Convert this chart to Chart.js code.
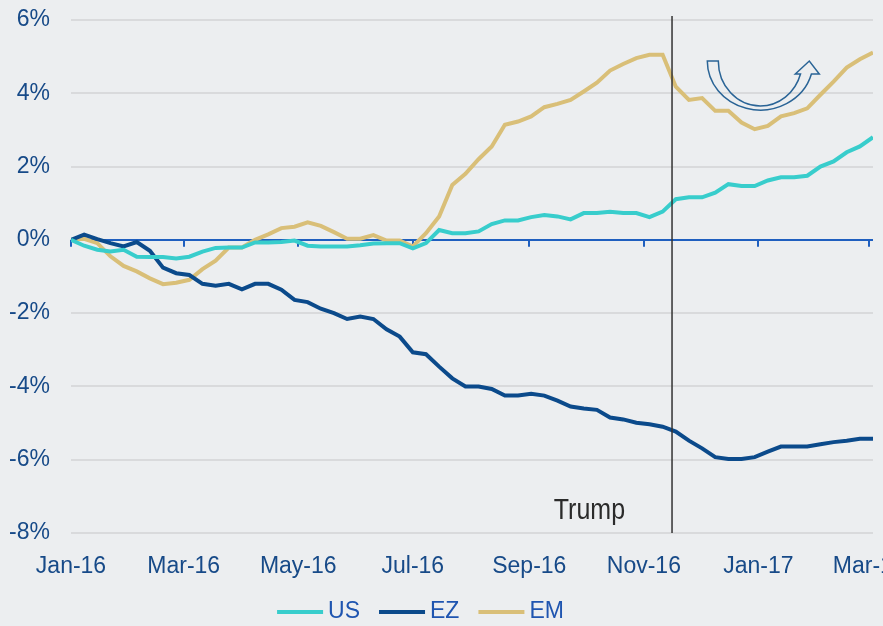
<!DOCTYPE html>
<html>
<head>
<meta charset="utf-8">
<script src="https://cdn.jsdelivr.net/npm/chart.js@4.4.0/dist/chart.umd.min.js"></script>
<style>
    html, body { margin: 0; padding: 0; background: #eceef0; }
    #wrap { width: 883px; height: 626px; position: relative; }
</style>
</head>
<body>
<div id="wrap"><canvas id="myChart"></canvas></div>
<script>
// Series values, one per week from 1 Jan 2016 (% change)
const usValues = [
    0, -0.16, -0.27, -0.32, -0.27, -0.46, -0.47, -0.47, -0.51, -0.46,
    -0.32, -0.22, -0.21, -0.21, -0.07, -0.07, -0.06, -0.02, -0.16, -0.18,
    -0.18, -0.18, -0.15, -0.1, -0.09, -0.09, -0.23, -0.09, 0.27, 0.18,
    0.18, 0.23, 0.43, 0.53, 0.53, 0.62, 0.68, 0.64, 0.56, 0.73,
    0.73, 0.77, 0.73, 0.73, 0.62, 0.77, 1.11, 1.16, 1.16, 1.29,
    1.52, 1.47, 1.47, 1.62, 1.71, 1.71, 1.75, 2.0, 2.14, 2.39,
    2.55, 2.8
];
const ezValues = [
    0, 0.14, 0.02, -0.09, -0.18, -0.06, -0.3, -0.76, -0.91, -0.96,
    -1.2, -1.25, -1.2, -1.35, -1.2, -1.2, -1.36, -1.64, -1.7, -1.88,
    -2.0, -2.16, -2.09, -2.16, -2.44, -2.64, -3.07, -3.12, -3.46, -3.78,
    -4.0, -4.0, -4.07, -4.25, -4.25, -4.2, -4.25, -4.39, -4.55, -4.6,
    -4.64, -4.85, -4.9, -4.99, -5.03, -5.1, -5.23, -5.48, -5.69, -5.93,
    -5.98, -5.98, -5.93, -5.78, -5.64, -5.64, -5.64, -5.58, -5.52, -5.48,
    -5.43, -5.43
];
const emValues = [
    0, 0.03, -0.09, -0.45, -0.71, -0.86, -1.05, -1.21, -1.17, -1.09,
    -0.8, -0.57, -0.21, -0.21, 0, 0.15, 0.32, 0.36, 0.48, 0.38,
    0.21, 0.03, 0.03, 0.13, -0.02, -0.02, -0.18, 0.18, 0.64, 1.5,
    1.8, 2.2, 2.55, 3.14, 3.23, 3.37, 3.62, 3.71, 3.82, 4.05,
    4.29, 4.62, 4.8, 4.96, 5.05, 5.05, 4.18, 3.82, 3.87, 3.52,
    3.52, 3.2, 3.02, 3.11, 3.37, 3.46, 3.59, 3.96, 4.32, 4.7,
    4.93, 5.11
];

// Axis ticks (days since 1 Jan 2016)
const tickDays = [0, 60, 121, 182, 244, 305, 366, 425];
const tickLabels = ['Jan-16', 'Mar-16', 'May-16', 'Jul-16', 'Sep-16', 'Nov-16', 'Jan-17', 'Mar-17'];
const yTicks = [-8, -6, -4, -2, 0, 2, 4, 6];

// Election marker
const trumpDay = 320;
const trumpText = 'Trump';

document.addEventListener('DOMContentLoaded', function() {
    const FONT = "'Liberation Sans', Arial, sans-serif";
    const toPoints = values => values.map((v, i) => ({ x: i * 7, y: v }));

    // Marcas sobre la línea del cero, línea de Trump, flecha y leyenda
    const extras = {
        id: 'extras',
        beforeDatasetsDraw(chart) {
            const { ctx } = chart;
            const x = chart.scales.x;
            const y = chart.scales.y;
            const y0 = y.getPixelForValue(0);
            ctx.save();
            ctx.strokeStyle = '#1f5fbf';
            ctx.lineWidth = 2;
            tickDays.forEach(d => {
                const px = Math.round(x.getPixelForValue(d));
                ctx.beginPath();
                ctx.moveTo(px, y0);
                ctx.lineTo(px, y0 + 7);
                ctx.stroke();
            });
            ctx.restore();
        },
        afterDatasetsDraw(chart) {
            const { ctx, chartArea } = chart;
            const x = chart.scales.x;
            const y = chart.scales.y;
            const lx = x.getPixelForValue(trumpDay);

            ctx.save();
            ctx.strokeStyle = '#333333';
            ctx.lineWidth = 1.5;
            ctx.beginPath();
            ctx.moveTo(lx, chartArea.top - 4);
            ctx.lineTo(lx, chartArea.bottom);
            ctx.stroke();

            // Texto "Trump", algo estirado en vertical como el original
            const ty = y.getPixelForValue(-7.62);
            ctx.save();
            ctx.translate(lx - 47, ty);
            ctx.scale(1, 1.2);
            ctx.fillStyle = '#2b2b2b';
            ctx.font = '25px ' + FONT;
            ctx.textAlign = 'right';
            ctx.textBaseline = 'alphabetic';
            ctx.fillText(trumpText, 0, 0);
            ctx.restore();

            // Flecha en U
            const cx = x.getPixelForValue(367);
            const cy = y.getPixelForValue(4.88);
            const a0 = Math.asin(13 / 49);
            const a1 = Math.asin(13 / 45);
            ctx.strokeStyle = '#2a6496';
            ctx.lineWidth = 1.5;
            ctx.beginPath();
            ctx.moveTo(cx - 53, cy);
            ctx.lineTo(cx - 42, cy);
            ctx.ellipse(cx, cy, 42, 45, 0, Math.PI, a1, true);
            ctx.lineTo(cx + 35, cy + 13);
            ctx.lineTo(cx + 49, cy);
            ctx.lineTo(cx + 59, cy + 13);
            ctx.lineTo(cx + 53 * Math.cos(a0), cy + 13);
            ctx.ellipse(cx, cy, 53, 49, 0, a0, Math.PI, false);
            ctx.closePath();
            ctx.stroke();
            ctx.restore();
        },
        afterDraw(chart) {
            // Leyenda propia: línea corta + texto
            const { ctx } = chart;
            const sets = chart.data.datasets;
            ctx.save();
            ctx.font = '23px ' + FONT;
            const swatch = 46, gap = 5, itemGap = 19;
            const widths = sets.map(ds => swatch + gap + ctx.measureText(ds.label).width);
            const total = widths.reduce((a, b) => a + b, 0) + itemGap * (sets.length - 1);
            let lx = (chart.width - total) / 2 - 21;
            const ly = chart.height - 14;
            ctx.textBaseline = 'middle';
            ctx.textAlign = 'left';
            sets.forEach((ds, i) => {
                ctx.fillStyle = ds.borderColor;
                ctx.fillRect(lx, ly - 2, swatch, 4);
                ctx.fillStyle = '#1f55b0';
                ctx.fillText(ds.label, lx + swatch + gap, ly);
                lx += widths[i] + itemGap;
            });
            ctx.restore();
        }
    };

    const ctx = document.getElementById('myChart').getContext('2d');
    new Chart(ctx, {
        type: 'line',
        data: {
            datasets: [
                { label: 'US', data: toPoints(usValues), borderColor: '#38cdcc', backgroundColor: '#38cdcc' },
                { label: 'EZ', data: toPoints(ezValues), borderColor: '#0b4a8b', backgroundColor: '#0b4a8b' },
                { label: 'EM', data: toPoints(emValues), borderColor: '#d9bf78', backgroundColor: '#d9bf78' }
            ]
        },
        options: {
            responsive: true,
            maintainAspectRatio: false,
            animation: false,
            datasets: {
                line: { borderWidth: 4, pointRadius: 0, tension: 0, fill: false }
            },
            layout: {
                padding: { top: 20, right: 10, bottom: 31, left: 0 }
            },
            plugins: {
                tooltip: { enabled: false },
                legend: { display: false }
            },
            scales: {
                x: {
                    type: 'linear',
                    min: 0,
                    max: 427,
                    grid: { display: false },
                    border: { display: false },
                    afterBuildTicks: scale => { scale.ticks = tickDays.map(v => ({ value: v })); },
                    afterFit: scale => { scale.paddingRight = 0; scale.paddingLeft = 0; scale.height = 62; },
                    ticks: {
                        autoSkip: false,
                        maxRotation: 0,
                        padding: 12,
                        color: '#174a88',
                        font: { family: FONT, size: 23 },
                        callback: value => tickLabels[tickDays.indexOf(value)]
                    }
                },
                y: {
                    min: -8,
                    max: 6,
                    afterBuildTicks: scale => { scale.ticks = yTicks.map(v => ({ value: v })); },
                    afterFit: scale => { scale.width = 71; scale.paddingTop = 0; scale.paddingBottom = 0; },
                    border: { display: false },
                    grid: {
                        drawTicks: false,
                        lineWidth: 2,
                        color: c => c.tick && c.tick.value === 0 ? '#1f5fbf' : '#d9dadc'
                    },
                    ticks: {
                        padding: 21,
                        color: '#174a88',
                        font: { family: FONT, size: 23 },
                        callback: value => value + '%'
                    }
                }
            }
        },
        plugins: [extras]
    });
});
</script>
</body>
</html>
